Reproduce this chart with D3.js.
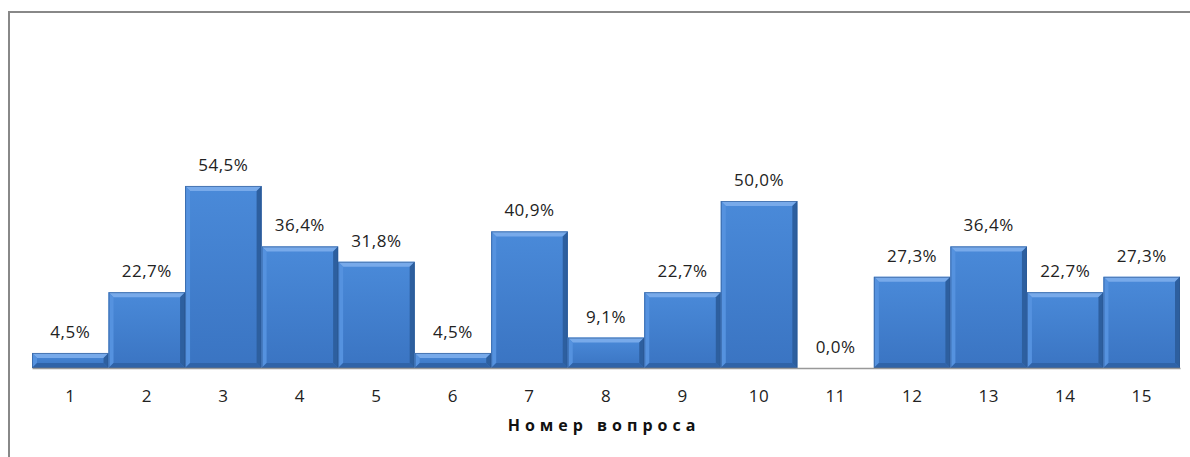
<!DOCTYPE html>
<html>
<head>
<meta charset="utf-8">
<script src="https://cdn.jsdelivr.net/npm/d3@7"></script>
<style>
  body { margin: 0; background: #fff; }
  svg { display: block; }
</style>
</head>
<body>
<script>
var w = 1190;
var h = 457;

var questions = ["1","2","3","4","5","6","7","8","9","10","11","12","13","14","15"];
var shares = [4.5, 22.7, 54.5, 36.4, 31.8, 4.5, 40.9, 9.1, 22.7, 50.0, 0.0, 27.3, 36.4, 22.7, 27.3];
var axisTitle = "Номер вопроса";

var data = questions.map(function (q, i) { return { q: q, v: shares[i] }; });

var svg = d3.select("body").append("svg")
    .attr("width", w)
    .attr("height", h);

// chart frame
svg.append("rect")
    .attr("x", 9).attr("y", 12)
    .attr("width", w + 10).attr("height", h + 10)
    .attr("fill", "none")
    .attr("stroke", "#888")
    .attr("stroke-width", 2);

var defs = svg.append("defs");
var grad = defs.append("linearGradient")
    .attr("id", "barFill")
    .attr("x1", 0).attr("y1", 0).attr("x2", 0).attr("y2", 1);
grad.append("stop").attr("offset", "0%").attr("stop-color", "#4a8ad9");
grad.append("stop").attr("offset", "100%").attr("stop-color", "#3a74c2");

var xScale = d3.scaleBand()
    .domain(questions)
    .range([32, 1180])
    .padding(0);

var yScale = d3.scaleLinear()
    .domain([0, 100])
    .range([368, 34]);

var bev = 5;

var bars = svg.selectAll("g.bar")
    .data(data)
    .enter()
    .append("g")
    .attr("class", "bar")
    .filter(function (d) { return d.v > 0; });

bars.append("rect")
    .attr("x", function (d) { return xScale(d.q); })
    .attr("y", function (d) { return yScale(d.v); })
    .attr("width", xScale.bandwidth())
    .attr("height", function (d) { return yScale(0) - yScale(d.v); })
    .attr("fill", "url(#barFill)");

// bevel faces: top, left, right, bottom
function face(d, side) {
    var x0 = xScale(d.q), x1 = x0 + xScale.bandwidth();
    var y0 = yScale(d.v), y1 = yScale(0);
    var b = Math.min(bev, (y1 - y0) / 2);
    if (side === "top") return [[x0, y0], [x1, y0], [x1 - b, y0 + b], [x0 + b, y0 + b]];
    if (side === "left") return [[x0, y0], [x0 + b, y0 + b], [x0 + b, y1 - b], [x0, y1]];
    if (side === "right") return [[x1, y0], [x1, y1], [x1 - b, y1 - b], [x1 - b, y0 + b]];
    return [[x0, y1], [x0 + b, y1 - b], [x1 - b, y1 - b], [x1, y1]];
}
var faces = [["top", "#78aaea"], ["left", "#5592df"], ["right", "#2d5f9f"], ["bottom", "#2f63a8"]];
faces.forEach(function (f) {
    bars.append("polygon")
        .attr("points", function (d) { return face(d, f[0]).join(" "); })
        .attr("fill", f[1]);
});

bars.append("rect")
    .attr("x", function (d) { return xScale(d.q) + 0.5; })
    .attr("y", function (d) { return yScale(d.v) + 0.5; })
    .attr("width", xScale.bandwidth() - 1)
    .attr("height", function (d) { return yScale(0) - yScale(d.v) - 1; })
    .attr("fill", "none")
    .attr("stroke", "#2a5590")
    .attr("stroke-opacity", 0.6)
    .attr("stroke-width", 1);

// value labels
svg.selectAll("text.val")
    .data(data)
    .enter()
    .append("text")
    .attr("class", "val")
    .attr("x", function (d) { return xScale(d.q) + xScale.bandwidth() / 2; })
    .attr("y", function (d) { return yScale(d.v) - 15; })
    .attr("text-anchor", "middle")
    .attr("font-family", "Open Sans, sans-serif")
    .attr("font-size", 17)
    .attr("letter-spacing", "0.5px")
    .attr("fill", "#222")
    .text(function (d) { return d3.format(".1f")(d.v).replace(".", ",") + "%"; });

// x axis
var xAxis = d3.axisBottom(xScale).tickSize(0).tickPadding(0);
var gx = svg.append("g")
    .attr("transform", "translate(0," + yScale(0) + ")")
    .call(xAxis);
gx.select(".domain").attr("stroke", "#999").attr("stroke-width", 1.5);
gx.selectAll("text")
    .attr("y", 34)
    .attr("dy", null)
    .attr("font-family", "Open Sans, sans-serif")
    .attr("font-size", 17)
    .attr("letter-spacing", "0.5px")
    .attr("fill", "#222");

svg.append("text")
    .attr("x", 604)
    .attr("y", 431)
    .attr("text-anchor", "middle")
    .attr("font-family", "Open Sans, sans-serif")
    .attr("font-weight", "bold")
    .attr("font-size", 16)
    .attr("letter-spacing", "5px")
    .attr("fill", "#111")
    .text(axisTitle);
</script>
</body>
</html>
